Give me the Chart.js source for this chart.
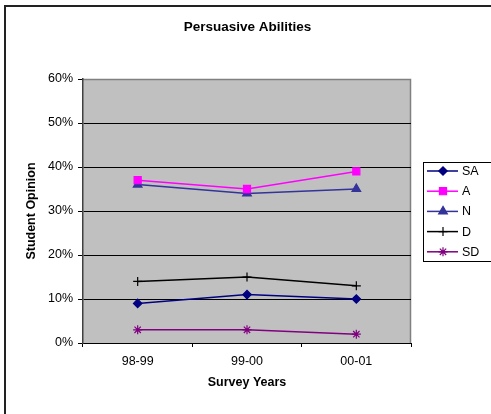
<!DOCTYPE html>
<html>
<head>
<meta charset="utf-8">
<script src="https://cdn.jsdelivr.net/npm/chart.js@4.4.1/dist/chart.umd.min.js"></script>
<style>
html,body{margin:0;padding:0;background:#fff;}
#wrap{width:491px;height:414px;position:relative;}
</style>
</head>
<body>
<div id="wrap"><canvas id="c" width="491" height="414"></canvas></div>
<script>
const chartTitle = "Persuasive Abilities";
const xTitle = "Survey Years";
const yTitle = "Student Opinion";
const categories = ["98-99", "99-00", "00-01"];
const seriesNames = ["SA", "A", "N", "D", "SD"];
const saValues = [9, 11, 10];
const aValues = [37, 35, 39];
const nValues = [36, 34, 35];
const dValues = [14, 15, 13];
const sdValues = [3, 3, 2];
const yTicks = [0, 10, 20, 30, 40, 50, 60];

const FONT = "'Liberation Sans', Arial, sans-serif";

const styles = [
  {color: "#000080", pointStyle: "rectRot", radius: 4.2},
  {color: "#FF00FF", pointStyle: "rect", radius: 5},
  {color: "#333399", pointStyle: "triangle", radius: 5},
  {color: "#000000", pointStyle: "cross", radius: 4.5},
  {color: "#800080", pointStyle: "star", radius: 4.5}
];
const allValues = [saValues, aValues, nValues, dValues, sdValues];

const datasets = seriesNames.map((name, i) => ({
  label: name,
  data: allValues[i],
  borderColor: styles[i].color,
  backgroundColor: styles[i].color,
  pointBackgroundColor: styles[i].color,
  pointBorderColor: styles[i].color,
  pointStyle: styles[i].pointStyle,
  pointRadius: styles[i].radius,
  pointHoverRadius: styles[i].radius,
  pointBorderWidth: 1.2,
  borderWidth: 1.5,
  tension: 0,
  fill: false
}));

const decor = {
  id: "decor",
  beforeDraw(chart) {
    const {ctx, chartArea: a} = chart;
    ctx.save();
    ctx.fillStyle = "#C0C0C0";
    ctx.fillRect(a.left, a.top, a.right - a.left, a.bottom - a.top);
    ctx.strokeStyle = "#808080";
    ctx.lineWidth = 1.5;
    ctx.beginPath();
    ctx.moveTo(a.left, a.top + 0.5);
    ctx.lineTo(a.right - 0.5, a.top + 0.5);
    ctx.lineTo(a.right - 0.5, a.bottom);
    ctx.stroke();
    ctx.restore();
  },
  afterDraw(chart) {
    const {ctx} = chart;
    ctx.save();
    // chart title
    ctx.fillStyle = "#000";
    ctx.font = "bold 13.5px " + FONT;
    ctx.textAlign = "center";
    ctx.textBaseline = "middle";
    ctx.fillText(chartTitle, 247.5, 27.5);
    // outer frame
    ctx.strokeStyle = "#222";
    ctx.lineWidth = 2;
    ctx.strokeRect(5, 6, 600, 600);
    // legend box
    ctx.strokeStyle = "#000";
    ctx.lineWidth = 1;
    ctx.strokeRect(423.5, 162.5, 80, 99);
    ctx.font = "12.5px " + FONT;
    ctx.textAlign = "left";
    chart.data.datasets.forEach((ds, i) => {
      const y = 171 + i * 20.2;
      ctx.strokeStyle = ds.borderColor;
      ctx.lineWidth = ds.borderWidth;
      ctx.beginPath();
      ctx.moveTo(427, y);
      ctx.lineTo(458, y);
      ctx.stroke();
      ctx.fillStyle = ds.pointBackgroundColor;
      ctx.strokeStyle = ds.pointBorderColor;
      ctx.lineWidth = ds.pointBorderWidth;
      Chart.helpers.drawPoint(ctx, {pointStyle: ds.pointStyle, radius: ds.pointRadius, rotation: 0, borderWidth: ds.pointBorderWidth}, 443, y);
      ctx.fillStyle = "#000";
      ctx.fillText(ds.label, 462, y + 0.5);
    });
    ctx.restore();
  }
};

new Chart(document.getElementById("c"), {
  type: "line",
  data: {labels: categories, datasets: datasets},
  options: {
    responsive: false,
    animation: false,
    events: [],
    layout: {padding: {left: 0, right: 80, top: 79, bottom: 0}},
    plugins: {legend: {display: false}, title: {display: false}, tooltip: {enabled: false}},
    scales: {
      x: {
        type: "category",
        offset: true,
        afterFit(scale) { scale.height = 71; },
        grid: {offset: true, drawOnChartArea: false, drawTicks: true, tickLength: 4, color: "#000", tickColor: "#000"},
        border: {display: true, color: "#000", width: 1},
        ticks: {color: "#000", font: {family: FONT, size: 12.5}, padding: 7, maxRotation: 0},
        title: {display: true, text: xTitle, color: "#000", font: {family: FONT, size: 12.5, weight: "bold"}, padding: {top: 0, bottom: 23.5}}
      },
      y: {
        min: yTicks[0],
        max: yTicks[yTicks.length - 1],
        afterFit(scale) { scale.width = 83; },
        afterBuildTicks(scale) { scale.ticks = yTicks.map(v => ({value: v})); },
        grid: {
          drawOnChartArea: true,
          drawTicks: true,
          tickLength: 5,
          color: ctx => (ctx.tick && ctx.tick.value === 60) ? "#808080" : "#000",
          tickColor: "#000",
          lineWidth: 1
        },
        border: {display: true, color: "#404040", width: 1.5},
        ticks: {color: "#000", font: {family: FONT, size: 12.5}, padding: 5, callback: v => v + "%"},
        title: {display: true, text: yTitle, color: "#000", font: {family: FONT, size: 12.5, weight: "bold"}, padding: {top: 24.5, bottom: 0}}
      }
    }
  },
  plugins: [decor]
});
</script>
</body>
</html>
